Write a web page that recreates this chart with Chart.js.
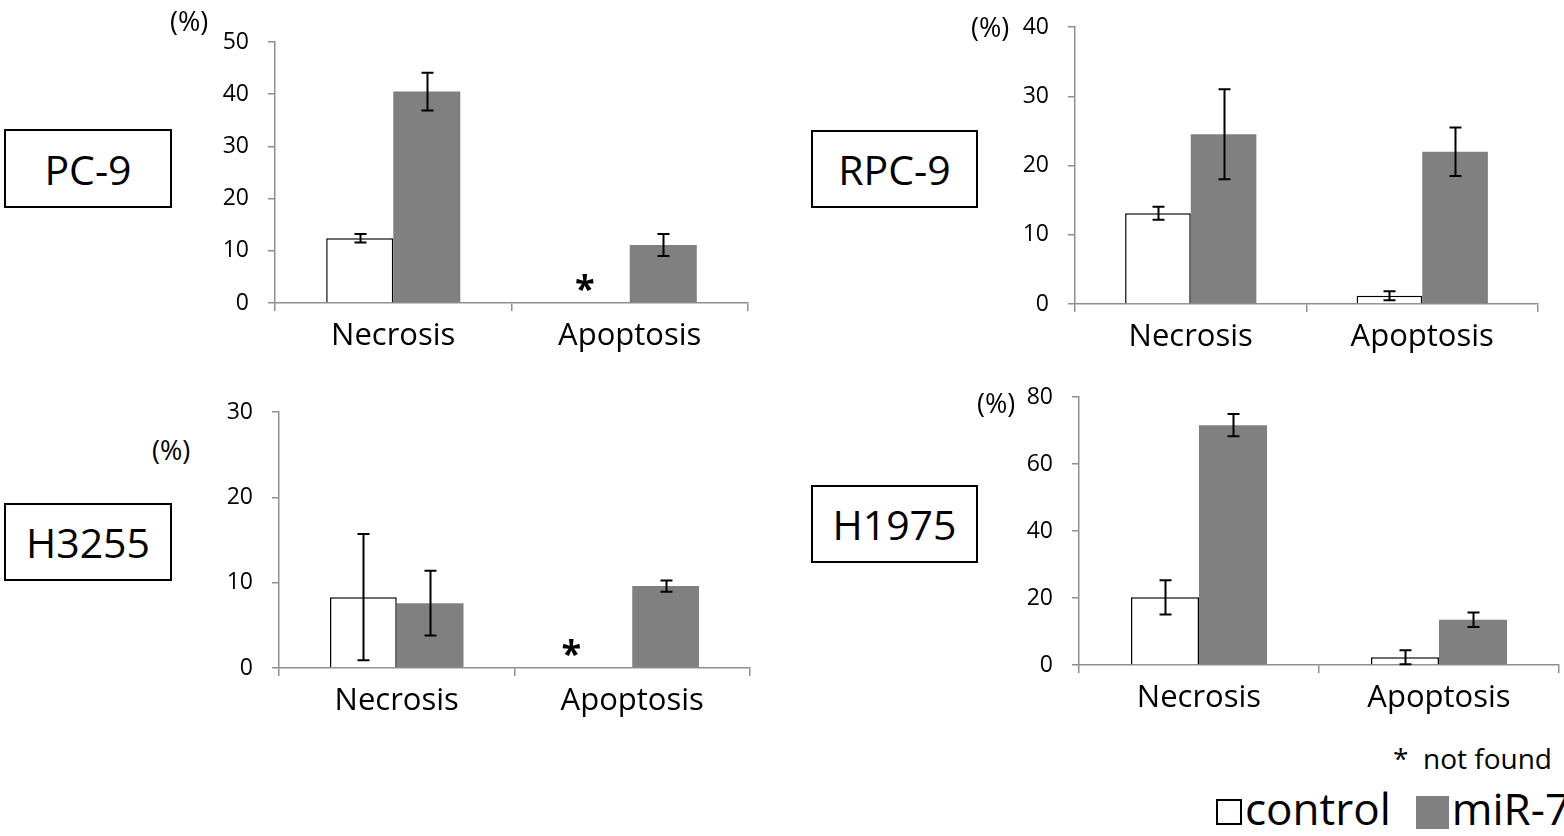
<!DOCTYPE html>
<html>
<head>
<meta charset="utf-8">
<script src="https://cdn.jsdelivr.net/npm/chart.js@4.4.1/dist/chart.umd.min.js"></script>
<style>
  html, body { margin: 0; padding: 0; background: #fff; }
  body { width: 1564px; height: 836px; position: relative; overflow: hidden; font-family: "Open Sans", "Noto Sans", sans-serif; color: #000; }
  canvas { position: absolute; }
  .cell { position: absolute; border: 2px solid #000; box-sizing: border-box; display: flex; align-items: center; justify-content: center; font-size: 41px; background: #fff; }
  .unit { position: absolute; font-size: 27px; line-height: 1; }
  .note { position: absolute; font-size: 28px; line-height: 1; white-space: nowrap; }
  .legend { position: absolute; font-size: 44px; line-height: 1; white-space: nowrap; display: flex; align-items: center; }
  .sw { display: inline-block; box-sizing: border-box; }
</style>
</head>
<body>
<script>
// Cell death by category, control vs miR-7 (%), mean and error
const categories = ['Necrosis', 'Apoptosis'];
const seriesNames = ['control', 'miR-7'];

const pc9Control = [12.4, null];
const pc9ControlErr = [0.8, null];
const pc9Mir7 = [40.5, 11.1];
const pc9Mir7Err = [3.6, 2.1];

const rpc9Control = [13.1, 1.2];
const rpc9ControlErr = [0.95, 0.65];
const rpc9Mir7 = [24.5, 22.0];
const rpc9Mir7Err = [6.5, 3.5];

const h3255Control = [8.3, null];
const h3255ControlErr = [7.4, null];
const h3255Mir7 = [7.6, 9.6];
const h3255Mir7Err = [3.8, 0.65];

const h1975Control = [20.2, 2.3];
const h1975ControlErr = [5.1, 2.1];
const h1975Mir7 = [71.6, 13.5];
const h1975Mir7Err = [3.3, 2.15];

const cellLines = ['PC-9', 'RPC-9', 'H3255', 'H1975'];
const yMax = [50, 40, 30, 80];
const yStep = [10, 10, 10, 20];

const FONT = '"Open Sans", "Noto Sans", sans-serif';
const AXIS_GREY = '#8f8f8f';
const BAR_GREY = '#808080';

// Whisker drawing for each bar that carries an error value
const errorBars = {
  id: 'errorBars',
  afterDatasetsDraw(chart) {
    const ctx = chart.ctx;
    const y = chart.scales.y;
    ctx.save();
    ctx.strokeStyle = '#000';
    ctx.lineWidth = 2;
    chart.data.datasets.forEach((ds, di) => {
      const meta = chart.getDatasetMeta(di);
      meta.data.forEach((bar, i) => {
        const v = ds.data[i], e = ds.errors[i];
        if (v == null || e == null) return;
        const x = Math.round(bar.x) + 0.5;
        const yt = y.getPixelForValue(v + e);
        const yb = y.getPixelForValue(Math.max(v - e, 0));
        ctx.beginPath();
        ctx.moveTo(x, yt); ctx.lineTo(x, yb);
        ctx.moveTo(x - 6, yt); ctx.lineTo(x + 6, yt);
        ctx.moveTo(x - 6, yb); ctx.lineTo(x + 6, yb);
        ctx.stroke();
      });
    });
    ctx.restore();
  }
};

// Asterisk above a control bar that has no value ("not found")
const notFoundMarks = {
  id: 'notFoundMarks',
  afterDatasetsDraw(chart, args, opts) {
    const ctx = chart.ctx;
    const ds = chart.data.datasets[0];
    const y0 = chart.scales.y.getPixelForValue(0);
    ctx.save();
    ctx.fillStyle = '#000';
    ctx.font = 'bold 36px ' + FONT;
    ctx.textAlign = 'center';
    ctx.textBaseline = 'middle';
    ds.data.forEach((v, i) => {
      if (v != null) return;
      const x = chart.scales.x.getPixelForValue(i) - 33 + (opts.dx || 0);
      ctx.fillText('*', x, y0 - 12);
    });
    ctx.restore();
  }
};

// Plot area of each panel on the page
const frames = [
  { left: 275, top: 42.3, right: 747.5, bottom: 303.3, starDx: -12 },
  { left: 1075, top: 27.3, right: 1537.5, bottom: 304.3, starDx: 0 },
  { left: 278.5, top: 411.7, right: 750, bottom: 667.7, starDx: -28 },
  { left: 1079, top: 396.7, right: 1559, bottom: 665, starDx: 0 }
];

const panelData = [
  [pc9Control, pc9ControlErr, pc9Mir7, pc9Mir7Err],
  [rpc9Control, rpc9ControlErr, rpc9Mir7, rpc9Mir7Err],
  [h3255Control, h3255ControlErr, h3255Mir7, h3255Mir7Err],
  [h1975Control, h1975ControlErr, h1975Mir7, h1975Mir7Err]
];

const YW = 80, XH = 60, PT = 15, PR = 5;

frames.forEach((f, k) => {
  const [ctrl, ctrlErr, mir, mirErr] = panelData[k];
  const cv = document.createElement('canvas');
  const L = Math.round(f.left) - YW, T = Math.round(f.top) - PT;
  const W = Math.round(f.right) - Math.round(f.left) + YW + PR;
  const H = Math.round(f.bottom) - Math.round(f.top) + PT + XH;
  cv.width = W; cv.height = H;
  cv.style.left = L + 'px'; cv.style.top = T + 'px';
  cv.style.width = W + 'px'; cv.style.height = H + 'px';
  document.body.appendChild(cv);

  new Chart(cv, {
    type: 'bar',
    data: {
      labels: categories,
      datasets: [
        { label: seriesNames[0], data: ctrl, errors: ctrlErr, backgroundColor: '#fff', borderColor: '#000', borderWidth: 1.5, borderSkipped: 'start' },
        { label: seriesNames[1], data: mir, errors: mirErr, backgroundColor: BAR_GREY, borderWidth: 0 }
      ]
    },
    options: {
      responsive: false,
      animation: false,
      devicePixelRatio: 1,
      layout: { padding: { top: PT, right: PR, left: 0, bottom: 0 } },
      datasets: { bar: { categoryPercentage: 0.567, barPercentage: 1.0 } },
      plugins: { legend: { display: false }, tooltip: { enabled: false }, notFoundMarks: { dx: f.starDx } },
      scales: {
        x: {
          afterFit: s => { s.height = XH; s.paddingLeft = 0; s.paddingRight = 0; },
          border: { color: AXIS_GREY, width: 1.5 },
          grid: { display: true, offset: true, drawOnChartArea: false, drawTicks: true, tickLength: 8, color: AXIS_GREY, lineWidth: 1.5 },
          ticks: { font: { family: FONT, size: 31 }, color: '#000', padding: 7 }
        },
        y: {
          min: 0, max: yMax[k],
          afterFit: s => { s.width = YW; s.paddingTop = 0; s.paddingBottom = 0; },
          border: { color: AXIS_GREY, width: 1.5 },
          grid: { display: true, drawOnChartArea: false, drawTicks: true, tickLength: 7, color: AXIS_GREY, lineWidth: 1.5 },
          ticks: { stepSize: yStep[k], font: { family: FONT, size: 23 }, color: '#000', padding: 19 }
        }
      }
    },
    plugins: [errorBars, notFoundMarks]
  });
});

// Cell line name boxes and unit labels
const cellBoxes = [
  { x: 4, y: 129, w: 168, h: 79 },
  { x: 811, y: 130, w: 167, h: 78 },
  { x: 4, y: 503, w: 168, h: 78 },
  { x: 811, y: 485, w: 167, h: 78 }
];
cellBoxes.forEach((b, k) => {
  const d = document.createElement('div');
  d.className = 'cell';
  Object.assign(d.style, { left: b.x + 'px', top: b.y + 'px', width: b.w + 'px', height: b.h + 'px' });
  d.textContent = cellLines[k];
  document.body.appendChild(d);
});
const units = [ { x: 170, y: 7 }, { x: 971, y: 13 }, { x: 152, y: 436 }, { x: 977, y: 389 } ];
units.forEach(u => {
  const d = document.createElement('div');
  d.className = 'unit';
  d.style.left = u.x + 'px'; d.style.top = u.y + 'px';
  d.textContent = '(%)';
  document.body.appendChild(d);
});
</script>
<div class="note" style="left:1393px; top:744px;">*&nbsp;&nbsp;not found</div>
<div class="legend" style="left:1216px; top:786px;">
  <span class="sw" style="width:26px; height:26px; border:2.5px solid #000; margin-right:3px; margin-top:8px;"></span><span>control</span>
  <span class="sw" style="width:33px; height:33px; background:#808080; margin-left:25px; margin-right:3px; margin-top:8px;"></span><span>miR-7</span>
</div>
</body>
</html>
